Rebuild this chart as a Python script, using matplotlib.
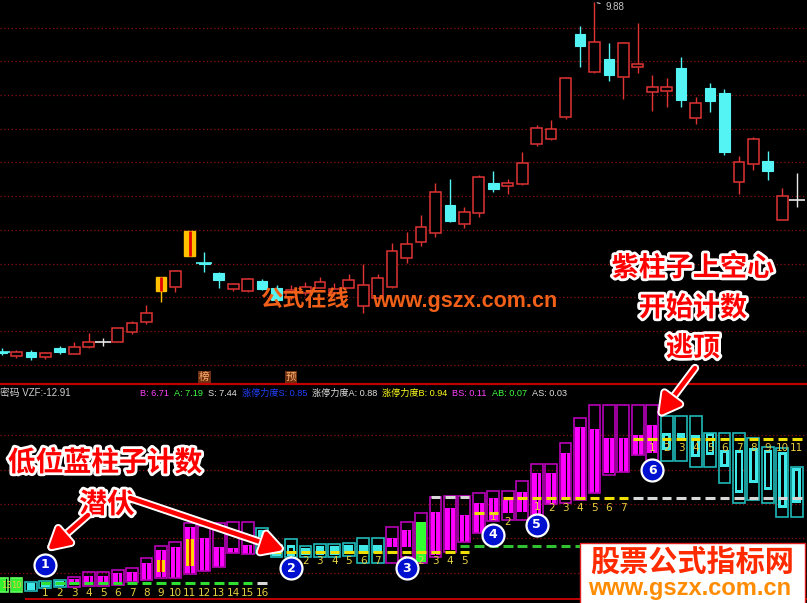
import matplotlib.pyplot as plt
import matplotlib.patheffects as pe
from matplotlib.patches import Rectangle

plt.rcParams['font.family'] = ['Noto Sans CJK SC', 'DejaVu Sans']

# ---------------- 主图 K线 (56 根) ----------------
k_open = [4.69, 4.63, 4.69, 4.61, 4.75, 4.66, 4.76, 4.84, 4.84, 4.98,
          5.13, 5.59, 5.65, 6.11, 6.01, 5.86, 5.62, 5.59, 5.74, 5.64,
          5.50, 5.56, 5.64, 5.56, 5.64, 5.37, 5.49, 5.65, 6.08, 6.32,
          6.45, 6.87, 6.59, 6.75, 7.19, 7.15, 7.18, 7.77, 7.85, 8.17,
          9.41, 8.84, 9.03, 8.77, 8.92, 8.55, 8.56, 8.90, 8.16, 8.60,
          8.53, 7.21, 7.48, 7.52, 6.65, 6.94]
k_close = [4.68, 4.69, 4.61, 4.67, 4.69, 4.76, 4.84, 4.84, 5.04, 5.12,
           5.27, 5.80, 5.89, 6.48, 6.00, 5.76, 5.70, 5.77, 5.62, 5.46,
           5.61, 5.65, 5.73, 5.62, 5.76, 5.68, 5.79, 6.19, 6.29, 6.54,
           7.06, 6.63, 6.76, 7.28, 7.11, 7.19, 7.49, 8.01, 8.00, 8.75,
           9.23, 9.29, 8.80, 9.27, 8.96, 8.62, 8.62, 8.43, 8.38, 8.41,
           7.65, 7.51, 7.85, 7.37, 7.00, 6.94]
k_high = [4.75, 4.72, 4.72, 4.69, 4.78, 4.84, 4.97, 4.90, 5.05, 5.15,
          5.39, 5.80, 5.90, 6.48, 6.17, 5.87, 5.71, 5.78, 5.77, 5.68,
          5.68, 5.73, 5.80, 5.71, 5.84, 5.99, 5.84, 6.30, 6.47, 6.72,
          7.19, 7.25, 6.84, 7.31, 7.37, 7.25, 7.65, 8.05, 8.13, 8.77,
          9.52, 9.88, 9.27, 9.28, 9.57, 8.80, 8.75, 9.06, 8.47, 8.68,
          8.59, 7.60, 7.87, 7.67, 7.12, 7.34]
k_low = [4.64, 4.60, 4.57, 4.58, 4.66, 4.66, 4.75, 4.78, 4.83, 4.95,
         5.10, 5.43, 5.58, 6.11, 5.87, 5.64, 5.59, 5.58, 5.61, 5.45,
         5.46, 5.54, 5.63, 5.55, 5.63, 5.27, 5.48, 5.64, 6.01, 6.26,
         6.39, 6.62, 6.53, 6.69, 7.06, 7.03, 7.17, 7.74, 7.83, 8.14,
         8.92, 8.82, 8.71, 8.44, 8.83, 8.26, 8.32, 8.32, 8.07, 8.25,
         7.61, 7.03, 7.39, 7.24, 6.64, 6.84]
limit_up = [11, 13]
tag_idx = [14, 20]
tag_txt = ["榜", "预"]

# ---------------- 副图 柱子 ----------------
bar_top = [2.5, 2.5, 2.1, 2.2, 2.3, 2.6, 3.1, 3.1, 3.3, 3.5,
           4.5, 5.7, 6.1, 8.0, 7.7, 8.0, 8.1, 8.1, 7.5, 5.8,
           6.4, 5.7, 5.9, 5.9, 6.0, 6.5, 6.5, 7.6, 8.1, 9.0,
           10.6, 10.7, 10.7, 11.0, 11.2, 11.2, 12.2, 13.9, 13.9, 16.0,
           18.5, 19.8, 19.8, 19.8, 19.8, 19.8, 18.7, 18.7, 18.7, 17.0,
           17.0, 17.0, 16.5, 15.6, 15.5, 13.6]
bar_bot = [1.1, 1.1, 1.2, 1.5, 1.6, 1.6, 1.7, 1.7, 1.8, 2.1,
           2.3, 2.5, 2.5, 2.9, 3.2, 3.6, 5.0, 4.9, 5.0, 4.6,
           4.6, 4.6, 4.6, 4.6, 4.7, 4.0, 4.0, 4.0, 4.6, 4.0,
           4.6, 5.1, 6.1, 7.0, 8.2, 8.3, 8.3, 8.8, 9.9, 10.0,
           10.3, 11.0, 12.8, 13.1, 14.8, 14.3, 14.2, 14.2, 13.6, 13.6,
           12.0, 10.0, 10.3, 10.0, 8.6, 8.6]
fill_top = [2.5, 2.5, 2.0, 2.1, 2.2, 2.4, 2.7, 2.7, 3.0, 3.1,
            4.0, 5.3, 5.6, 7.6, 6.5, 5.6, 5.5, 5.8, 7.3, 5.7,
            5.8, 5.5, 5.7, 5.7, 5.8, 5.8, 5.8, 6.5, 7.3, 8.1,
            9.1, 9.5, 8.8, 10.0, 10.5, 10.3, 11.1, 13.0, 13.0, 15.0,
            17.6, 17.4, 16.5, 16.5, 16.8, 17.8, 17.0, 17.0, 16.8, 17.0,
            15.3, 15.3, 15.5, 15.3, 15.1, 13.5]
fill_bot = [1.1, 1.1, 1.3, 1.6, 1.7, 1.8, 1.8, 1.8, 1.9, 2.2,
            2.3, 2.6, 2.5, 3.0, 3.2, 3.6, 5.0, 4.9, 6.6, 4.7,
            4.7, 4.8, 4.8, 4.8, 4.9, 5.0, 5.0, 5.6, 5.6, 4.0,
            4.8, 5.3, 6.1, 7.0, 8.2, 9.0, 9.1, 8.8, 9.9, 10.3,
            10.3, 11.0, 13.0, 13.1, 14.8, 15.0, 15.3, 16.3, 14.6, 14.8,
            13.6, 11.0, 12.0, 11.3, 9.5, 10.0]
bar_kind = "GG" + "CCC" + "M" * 13 + "C" * 9 + "MM" + "g" + "M" * 16 + "C" * 10
hi_idx = [11, 13]
hi_top = [4.3, 6.4]
hi_bot = [3.1, 3.7]

# 支撑短横线
dash_color = ["#30e030", "#d8d8d8", "#f0e000", "#30c030", "#d8d8d8",
              "#f0e000", "#f0e000", "#d8d8d8", "#f0e000"]
dash_level = [2.0, 2.0, 5.1, 5.7, 10.6, 9.0, 10.5, 10.5, 16.4]
dash_from = [3, 18, 19, 32, 30, 33, 35, 44, 44]
dash_to = [17, 18, 32, 40, 32, 34, 43, 55, 55]

# 计数
cnt_txt = ["13", "10", "", "1", "2", "3", "4", "5", "6", "7",
           "8", "9", "10", "11", "12", "13", "14", "15", "16", "",
           "1", "2", "3", "4", "5", "6", "7", "", "1", "2",
           "3", "4", "5", "", "1", "2", "", "1", "2", "3",
           "4", "5", "6", "7", "", "1", "2", "3", "4", "5",
           "6", "7", "8", "9", "10", "11"]
cnt_level = [1.8, 1.8, 0, 1.0, 1.0, 1.0, 1.0, 1.0, 1.0, 1.0,
             1.0, 1.0, 1.0, 1.0, 1.0, 1.0, 1.0, 1.0, 1.0, 0,
             4.2, 4.2, 4.2, 4.2, 4.2, 4.2, 4.2, 0, 4.2, 4.2,
             4.2, 4.2, 4.2, 0, 8.6, 8.1, 0, 9.6, 9.5, 9.5,
             9.5, 9.5, 9.5, 9.5, 0, 15.5, 15.5, 15.5, 15.5, 15.5,
             15.5, 15.5, 15.5, 15.5, 15.5, 15.5]
circ_idx = [3, 20, 28, 34, 37, 45]
circ_level = [3.8, 3.5, 3.5, 6.8, 7.8, 13.3]

# 指标标题
hdr_txt = ["B: 6.71", "A: 7.19", "S: 7.44", "涨停力度S: 0.85", "涨停力度A: 0.88",
           "涨停力度B: 0.94", "BS: 0.11", "AB: 0.07", "AS: 0.03"]
hdr_col = ["#ff40ff", "#40ff40", "#e0e0e0", "#2040ff", "#e0e0e0",
           "#ffff20", "#ff40ff", "#40ff40", "#e0e0e0"]

RED = "#e03434"
CYAN = "#54f4f4"

fig = plt.figure(figsize=(8.07, 6.03), dpi=100, facecolor="black")
ax_k = fig.add_axes([0, 220 / 603, 1, 383 / 603])
ax_i = fig.add_axes([0, 0, 1, 218 / 603])
for ax in (ax_k, ax_i):
    ax.set_facecolor("black")
    ax.set_xlim(-0.138, 55.71)
    ax.axis("off")
ax_k.set_ylim(4.2275, 9.91)
ax_i.set_ylim(0, 21.8)

# 网格点线
for g in [4.5, 5.0, 5.5, 6.0, 6.5, 7.0, 7.5, 8.0, 8.5, 9.0, 9.5]:
    ax_k.axhline(g, color="#8a1010", lw=0.9, ls=(0, (1, 2)), zorder=0)
for g in [3.0, 6.5, 9.9, 13.3, 16.8]:
    ax_i.axhline(g, color="#8a1010", lw=0.9, ls=(0, (1, 2)), zorder=0)

# 画K线
w = 0.37
for i in range(len(k_open)):
    o, c, h, l = k_open[i], k_close[i], k_high[i], k_low[i]
    if i in limit_up:
        ax_k.vlines(i, l, h, color="#ffc000", lw=1)
        ax_k.add_patch(Rectangle((i - w, o), 2 * w, c - o, facecolor="#ffc000",
                                 edgecolor="#ffc000", zorder=3))
        ax_k.vlines(i, o, c, color="#e00000", lw=2, zorder=4)
    elif c > o:
        ax_k.vlines(i, c, h, color=RED, lw=1)
        ax_k.vlines(i, l, o, color=RED, lw=1)
        ax_k.add_patch(Rectangle((i - w, o), 2 * w, c - o, facecolor="black",
                                 edgecolor=RED, lw=1.1, zorder=3))
    elif c < o:
        ax_k.vlines(i, l, h, color=CYAN, lw=1)
        ax_k.add_patch(Rectangle((i - w, c), 2 * w, max(o - c, 0.012),
                                 facecolor=CYAN, edgecolor=CYAN, lw=0.8, zorder=3))
        if o - c < 0.03:
            ax_k.hlines(o, i - 0.55, i + 0.55, color=CYAN, lw=1.2, zorder=3)
    else:
        ax_k.vlines(i, l, h, color="#e8e8e8", lw=1)
        ax_k.hlines(o, i - 0.55, i + 0.55, color="#e8e8e8", lw=1.2, zorder=3)

imax = k_high.index(max(k_high))
ax_k.annotate("%.2f" % k_high[imax], xy=(imax, k_high[imax]), xytext=(8, -6),
              textcoords="offset points", color="#c8c8c8", fontsize=7,
              family=["Liberation Sans"],
              arrowprops=dict(arrowstyle="-", color="#c8c8c8", lw=0.8))

for i, t in zip(tag_idx, tag_txt):
    ax_k.text(i, 4.32, t, color="#ffb070", fontsize=7.5, ha="center", va="center",
              bbox=dict(boxstyle="square,pad=0.1", facecolor="#703010", edgecolor="none"))

# 副图柱子
outline_c = {"M": "#b800b8", "C": "#20b8b8", "G": "#60ff60", "g": "#b800b8"}
fill_c = {"M": "#ff00ff", "C": "#40e8e8", "G": "#30f030", "g": "#30ff30"}
for i in range(len(bar_top)):
    k = bar_kind[i]
    ax_i.add_patch(Rectangle((i - 0.41, bar_bot[i]), 0.82, bar_top[i] - bar_bot[i],
                             fill=False, edgecolor=outline_c[k], lw=1.2, zorder=3))
    fw = 0.66 if k in "Mg" else 0.6
    ax_i.add_patch(Rectangle((i - fw / 2, fill_bot[i]), fw, fill_top[i] - fill_bot[i],
                             facecolor=fill_c[k], edgecolor="none", zorder=2))
    if k == "M":
        ax_i.vlines(i, fill_bot[i], fill_top[i], color="black", lw=0.8, zorder=2.5)
    elif k == "C" and fill_top[i] - fill_bot[i] > 1.0:
        ax_i.add_patch(Rectangle((i - 0.12, fill_bot[i] + 0.3), 0.24,
                                 fill_top[i] - fill_bot[i] - 0.6,
                                 facecolor="black", edgecolor="none", zorder=2.5))
for i, t, b in zip(hi_idx, hi_top, hi_bot):
    ax_i.add_patch(Rectangle((i - 0.3, b), 0.6, t - b, facecolor="#ffd800",
                             edgecolor="none", zorder=2.6))
    ax_i.vlines(i, b, t, color="#e00000", lw=1.5, zorder=2.7)

for col, lev, a, b in zip(dash_color, dash_level, dash_from, dash_to):
    for i in range(a, b + 1):
        ax_i.hlines(lev, i - 0.33, i + 0.33, color=col, lw=2.2, zorder=4)

for i, (t, lev) in enumerate(zip(cnt_txt, cnt_level)):
    if t:
        fs = 6 if i < 2 else 7.5
        ax_i.text(max(i, 0.3), lev, t, color="#e8d040", fontsize=fs, ha="center",
                  va="center", family=["DejaVu Sans"], zorder=5)

ax_i.scatter(circ_idx, circ_level, s=250, facecolor="#0010d0",
             edgecolor="white", linewidth=1.6, zorder=6)
for n, (i, lev) in enumerate(zip(circ_idx, circ_level)):
    ax_i.text(i, lev, str(n + 1), color="white", fontsize=9, fontweight="bold",
              ha="center", va="center", family=["DejaVu Sans"], zorder=7)

# ---------------- 叠加层: 文字、箭头、水印 ----------------
ov = fig.add_axes([0, 0, 1, 1])
ov.set_xlim(0, 807)
ov.set_ylim(603, 0)
ov.axis("off")
ov.patch.set_alpha(0)

ov.axhline(384, color="#c00000", lw=1.6)
ov.hlines(599, 25, 807, color="#c00000", lw=1.4)

hdr_font = ["Liberation Sans", "Noto Sans CJK SC"]
ov.text(0, 393, "密码 VZF:-12.91", color="#d0d0d0", fontsize=7, va="center",
        family=hdr_font)
# 标题依次排开, 按实际宽度
renderer = fig.canvas.get_renderer()
x = 140
for t, c in zip(hdr_txt, hdr_col):
    tx = ov.text(x, 393, t, color=c, fontsize=6.6, va="center", family=hdr_font)
    x += tx.get_window_extent(renderer).width + 5

ov.text(260, 300, "公式在线", color="#f06018", fontsize=16, fontweight="bold",
        va="center")
ov.text(372, 301, "www.gszx.com.cn", color="#f06018", fontsize=15.5,
        fontweight="bold", va="center", family=["Liberation Sans"])

stroke = [pe.withStroke(linewidth=4, foreground="white")]
ov.text(105, 463, "低位蓝柱子计数", color="#ff0000", fontsize=20, fontweight="heavy",
        ha="center", va="center", path_effects=stroke)
ov.text(107, 505, "潜伏", color="#ff0000", fontsize=20, fontweight="heavy",
        ha="center", va="center", path_effects=stroke)
for t, y in [("紫柱子上空心", 268), ("开始计数", 308), ("逃顶", 348)]:
    ov.text(693, y, t, color="#ff0000", fontsize=19.5, fontweight="heavy",
            ha="center", va="center", path_effects=stroke)

arrow_kw = dict(arrowstyle="-|>,head_length=0.9,head_width=0.5", color="#ff0000",
                lw=3.2, mutation_scale=14, shrinkA=0, shrinkB=0,
                path_effects=[pe.withStroke(linewidth=6, foreground="white")])
ov.annotate("", xy=(48, 550), xytext=(88, 515), arrowprops=arrow_kw)
ov.annotate("", xy=(284, 550), xytext=(130, 498), arrowprops=arrow_kw)
ov.annotate("", xy=(659, 416), xytext=(695, 368), arrowprops=arrow_kw)

ov.add_patch(Rectangle((580, 543), 225, 62, facecolor="white", edgecolor="#e02020",
                       lw=1, zorder=8))
ov.text(692, 562, "股票公式指标网", color="#ff2a00", fontsize=21, fontweight="heavy",
        ha="center", va="center", zorder=9)
ov.text(690, 588, "www.gszx.com.cn", color="#ff8c00", fontsize=17, fontweight="bold",
        ha="center", va="center", family=["Liberation Sans"], zorder=9)

fig.savefig("out.png", dpi=100, facecolor="black")
